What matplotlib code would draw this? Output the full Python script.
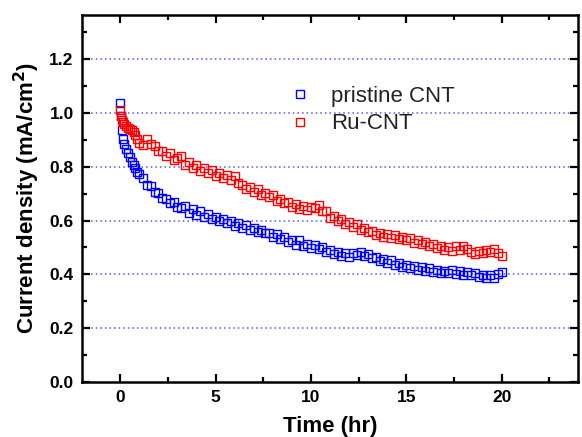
import matplotlib
matplotlib.use("Agg")
import matplotlib.pyplot as plt
from matplotlib.ticker import MultipleLocator

plt.rcParams['font.family'] = ['Liberation Sans', 'DejaVu Sans']

# sampling time (hr), shared by both samples
time_hr = [0, 0.05, 0.1, 0.15, 0.2, 0.3, 0.4, 0.5, 0.6, 0.7, 0.8, 0.9, 1.0,
           1.2, 1.4, 1.6, 1.8, 2.0, 2.2, 2.4, 2.6, 2.8, 3.0,
           3.2, 3.4, 3.6, 3.8, 4.0, 4.2, 4.4, 4.6, 4.8, 5.0,
           5.2, 5.4, 5.6, 5.8, 6.0, 6.2, 6.4, 6.6, 6.8, 7.0,
           7.2, 7.4, 7.6, 7.8, 8.0, 8.2, 8.4, 8.6, 8.8, 9.0,
           9.2, 9.4, 9.6, 9.8, 10.0, 10.2, 10.4, 10.6, 10.8, 11.0,
           11.2, 11.4, 11.6, 11.8, 12.0, 12.2, 12.4, 12.6, 12.8, 13.0,
           13.2, 13.4, 13.6, 13.8, 14.0, 14.2, 14.4, 14.6, 14.8, 15.0,
           15.2, 15.4, 15.6, 15.8, 16.0, 16.2, 16.4, 16.6, 16.8, 17.0,
           17.2, 17.4, 17.6, 17.8, 18.0, 18.2, 18.4, 18.6, 18.8, 19.0,
           19.2, 19.4, 19.6, 19.8, 20.0]

pristine = [1.036, 0.99, 0.935, 0.905, 0.885, 0.868, 0.85, 0.835, 0.818, 0.808, 0.795, 0.782, 0.772,
            0.758, 0.732, 0.728, 0.705, 0.702, 0.684, 0.682, 0.665, 0.668, 0.650,
            0.646, 0.655, 0.628, 0.642, 0.620, 0.634, 0.614, 0.626, 0.606, 0.614,
            0.598, 0.606, 0.590, 0.600, 0.580, 0.590, 0.572, 0.582, 0.566, 0.572,
            0.556, 0.564, 0.552, 0.554, 0.540, 0.550, 0.532, 0.538, 0.520, 0.528,
            0.510, 0.526, 0.506, 0.514, 0.498, 0.508, 0.496, 0.500, 0.482, 0.490,
            0.474, 0.484, 0.470, 0.478, 0.466, 0.480, 0.472, 0.482, 0.468, 0.476,
            0.460, 0.466, 0.450, 0.458, 0.444, 0.452, 0.436, 0.444, 0.428, 0.436,
            0.422, 0.432, 0.418, 0.426, 0.414, 0.424, 0.410, 0.418, 0.406, 0.414,
            0.404, 0.416, 0.400, 0.412, 0.398, 0.410, 0.396, 0.404, 0.390, 0.398,
            0.386, 0.398, 0.388, 0.400, 0.408]

ru_cnt = [1.01, 0.99, 0.975, 0.965, 0.958, 0.950, 0.945, 0.940, 0.935, 0.928, 0.920, 0.905, 0.890,
          0.880, 0.904, 0.884, 0.878, 0.858, 0.860, 0.840, 0.850, 0.826, 0.834,
          0.842, 0.808, 0.816, 0.796, 0.808, 0.786, 0.796, 0.778, 0.788, 0.766,
          0.776, 0.758, 0.770, 0.752, 0.764, 0.738, 0.734, 0.716, 0.726, 0.706,
          0.716, 0.696, 0.704, 0.686, 0.694, 0.674, 0.682, 0.664, 0.670, 0.652,
          0.660, 0.644, 0.654, 0.640, 0.652, 0.646, 0.658, 0.636, 0.634, 0.610,
          0.616, 0.598, 0.606, 0.588, 0.594, 0.576, 0.586, 0.566, 0.574, 0.556,
          0.562, 0.546, 0.554, 0.540, 0.550, 0.536, 0.546, 0.530, 0.540, 0.526,
          0.534, 0.518, 0.526, 0.512, 0.520, 0.504, 0.512, 0.498, 0.504, 0.492,
          0.500, 0.488, 0.504, 0.492, 0.506, 0.494, 0.484, 0.476, 0.488, 0.480,
          0.492, 0.482, 0.494, 0.480, 0.470]

fig = plt.figure(figsize=(5.82, 4.37), dpi=100)
ax = fig.add_axes([0.141, 0.126, 0.852, 0.840])

for yv in [0.2, 0.4, 0.6, 0.8, 1.0, 1.2]:
    ax.axhline(yv, color='#5555ff', linestyle=(0, (1, 2)), linewidth=1.1, zorder=1)

ax.plot(time_hr, pristine, 's', mfc='none', mec='#0000ff', ms=5.5, mew=1.0,
        label='pristine CNT', zorder=3)
ax.plot(time_hr, ru_cnt, 's', mfc='none', mec='#ff0000', ms=5.5, mew=1.0,
        label='Ru-CNT', zorder=3)

ax.set_xlim(-2, 24)
ax.set_ylim(0, 1.365)
ax.set_xticks([0, 5, 10, 15, 20])
ax.xaxis.set_minor_locator(MultipleLocator(2.5))
ax.set_yticks([0.0, 0.2, 0.4, 0.6, 0.8, 1.0, 1.2])
ax.yaxis.set_minor_locator(MultipleLocator(0.1))
ax.set_yticklabels(['0.0', '0.2', '0.4', '0.6', '0.8', '1.0', '1.2'])

ax.tick_params(which='both', direction='in', top=True, right=True, width=1.6)
ax.tick_params(which='major', length=6, labelsize=12.5, pad=6)
ax.tick_params(which='minor', length=3.5)
for lab in ax.get_xticklabels() + ax.get_yticklabels():
    lab.set_fontweight('bold')
for sp in ax.spines.values():
    sp.set_linewidth(1.8)

ax.set_xlabel('Time (hr)', fontsize=16, fontweight='bold', labelpad=8)
ax.set_ylabel('Current density (mA/cm$^\\mathbf{2}$)', fontsize=16, fontweight='bold', labelpad=5)

ax.legend(loc='upper left', bbox_to_anchor=(0.417, 0.806), frameon=False,
          fontsize=16, handlelength=1.0, handletextpad=0.9, labelspacing=0.28,
          borderpad=0, borderaxespad=0, markerscale=1.0, labelcolor='#222222')

fig.savefig('out.png', dpi=100)
